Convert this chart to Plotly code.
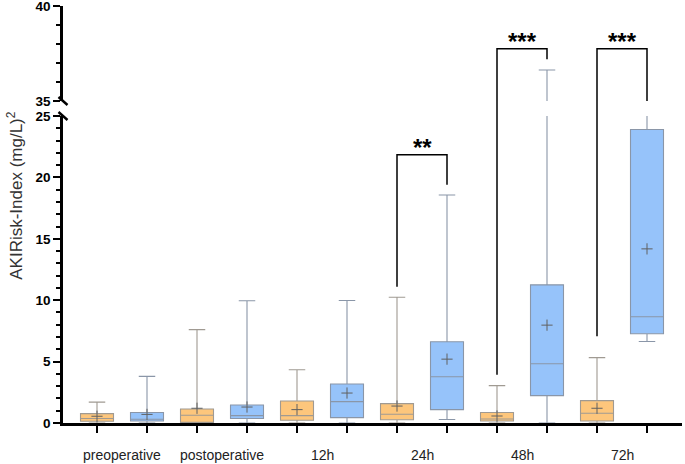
import plotly.graph_objects as go

# ---------------- data ----------------
groups = ["preoperative", "postoperative", "12h", "24h", "48h", "72h"]
# each group: orange box then blue box
lowerfence = [0.0, 0.0,  0.0, 0.0,   0.0, 0.0,   0.0, 0.28,   0.0, 0.0,    0.0, 6.64]
q1         = [0.14, 0.16, 0.05, 0.36, 0.22, 0.44, 0.27, 1.09, 0.16, 2.23,  0.16, 7.27]
median     = [0.36, 0.30, 0.63, 0.60, 0.60, 1.74, 0.71, 3.77, 0.33, 4.83,  0.79, 8.65]
q3         = [0.76, 0.85, 1.14, 1.46, 1.79, 3.17, 1.58, 6.62, 0.85, 11.25, 1.82, 23.9]
upperfence = [1.70, 3.80, 7.60, 9.95, 4.34, 9.97, 10.24, 18.57, 3.04, 36.63, 5.32, 28.0]
mean       = [0.55, 0.70, 1.20, 1.30, 1.09, 2.44, 1.38, 5.20, 0.57, 7.97,  1.20, 14.18]

# significance brackets: (left box, right box, left leg bottom, top, right leg bottom, label)
brackets = [
    (6, 7, 11.1, 21.85, 19.4, "**"),
    (8, 9, 3.93, 37.75, 37.2, "***"),
    (10, 11, 7.07, 37.75, 35.0, "***"),
]

lower_range = [0, 25]
upper_range = [35, 40]

# ---------------- styling ----------------
fills = ["#FDC67C", "#96C3FA"]
linecols = ["#a09a92", "#8a96a8"]
FONT = "Liberation Sans, Arial, sans-serif"

L_DOM = [0.0, 0.7362]
U_DOM = [0.7722, 1.0]

fig = go.Figure()

positions = list(range(len(median)))
for sub in ("lower", "upper"):
    xa, ya = ("x", "y") if sub == "lower" else ("x2", "y2")
    for i in positions:
        fig.add_trace(go.Box(
            x=[i], q1=[q1[i]], median=[median[i]], q3=[q3[i]],
            lowerfence=[lowerfence[i]], upperfence=[upperfence[i]],
            width=0.66, whiskerwidth=0.5, boxpoints=False,
            fillcolor=fills[i % 2],
            line=dict(color=linecols[i % 2], width=1.1),
            xaxis=xa, yaxis=ya, showlegend=False, hoverinfo="skip",
        ))

# means as "+"
fig.add_trace(go.Scatter(
    x=positions, y=mean, mode="markers",
    marker=dict(symbol="cross-thin", size=8, line=dict(color="#606060", width=1)),
    xaxis="x", yaxis="y", showlegend=False, hoverinfo="skip",
))

# brackets
shapes = []
annotations = []
STAR_FONT = dict(family=FONT, size=24, color="black", weight="bold")
for (a, b, lbot, top, rbot, lab) in brackets:
    if top <= lower_range[1]:
        fig.add_trace(go.Scatter(
            x=[a, a, b, b], y=[lbot, top, top, rbot], mode="lines",
            line=dict(color="black", width=1.5), xaxis="x", yaxis="y",
            showlegend=False, hoverinfo="skip"))
        annotations.append(dict(x=(a + b) / 2, y=top, xref="x", yref="y", text=lab,
                                showarrow=False, yanchor="bottom", yshift=-8,
                                font=STAR_FONT))
    else:
        fig.add_trace(go.Scatter(
            x=[a, a], y=[lbot, lower_range[1]], mode="lines",
            line=dict(color="black", width=1.5), xaxis="x", yaxis="y",
            showlegend=False, hoverinfo="skip"))
        fig.add_trace(go.Scatter(
            x=[a, a, b, b], y=[upper_range[0], top, top, rbot], mode="lines",
            line=dict(color="black", width=1.5), xaxis="x2", yaxis="y2",
            showlegend=False, hoverinfo="skip"))
        shapes.append(dict(type="line", xref="x", yref="paper", x0=a, x1=a,
                           y0=L_DOM[1], y1=U_DOM[0], line=dict(color="black", width=1.5)))
        annotations.append(dict(x=(a + b) / 2, y=top, xref="x2", yref="y2", text=lab,
                                showarrow=False, yanchor="bottom", yshift=-8,
                                font=STAR_FONT))

# axis break slashes
W, H = 619.0, 417.0
dx, dy = 4.5 / W, 4.0 / H
for yc in (U_DOM[0], L_DOM[1]):
    shapes.append(dict(type="line", xref="paper", yref="paper",
                       x0=-dx, x1=dx, y0=yc + dy, y1=yc - dy,
                       line=dict(color="black", width=2.5)))

# category labels
for k, g in enumerate(groups):
    annotations.append(dict(x=2 * k + 0.5, y=-0.0767, xref="x", yref="paper", text=g,
                            showarrow=False, yanchor="middle",
                            font=dict(family=FONT, size=14, color="#222222")))

# y title
annotations.append(dict(x=-0.0775, y=0.545, xref="paper", yref="paper",
                        text="AKIRisk-Index (mg/L)<sup>2</sup>", textangle=-90,
                        showarrow=False, xanchor="center", yanchor="middle",
                        font=dict(family=FONT, size=17, color="#333333")))

yax_common = dict(
    showline=True, linewidth=2.5, linecolor="black", automargin=False,
    ticklabeloverflow="allow",
    ticks="outside", ticklen=7, tickwidth=2, tickcolor="black",
    tick0=0, dtick=5, showgrid=False, zeroline=False,
    tickfont=dict(family=FONT, size=13.5, color="black", weight="bold"),
    minor=dict(dtick=1, tick0=0, ticks="outside", ticklen=4, tickwidth=2,
               tickcolor="black", showgrid=False),
)

fig.update_layout(
    width=685, height=464,
    margin=dict(l=63, r=3, t=6, b=41, autoexpand=False),
    paper_bgcolor="white", plot_bgcolor="white",
    showlegend=False,
    xaxis=dict(domain=[0, 1], range=[-0.68, 11.7], anchor="y", automargin=False,
               showline=True, linewidth=2.5, linecolor="black",
               tickmode="array", tickvals=positions, ticks="outside",
               ticklen=7, tickwidth=2, tickcolor="black", showticklabels=False,
               showgrid=False, zeroline=False),
    xaxis2=dict(domain=[0, 1], matches="x", anchor="y2", visible=False, automargin=False),
    yaxis=dict(domain=L_DOM, range=lower_range, anchor="x", **yax_common),
    yaxis2=dict(domain=U_DOM, range=upper_range, anchor="x2", **yax_common),
    shapes=shapes,
    annotations=annotations,
)

fig.write_html("out.html", config={"displayModeBar": False},
               post_script="document.body.style.margin='0';document.body.style.overflow='hidden';")
